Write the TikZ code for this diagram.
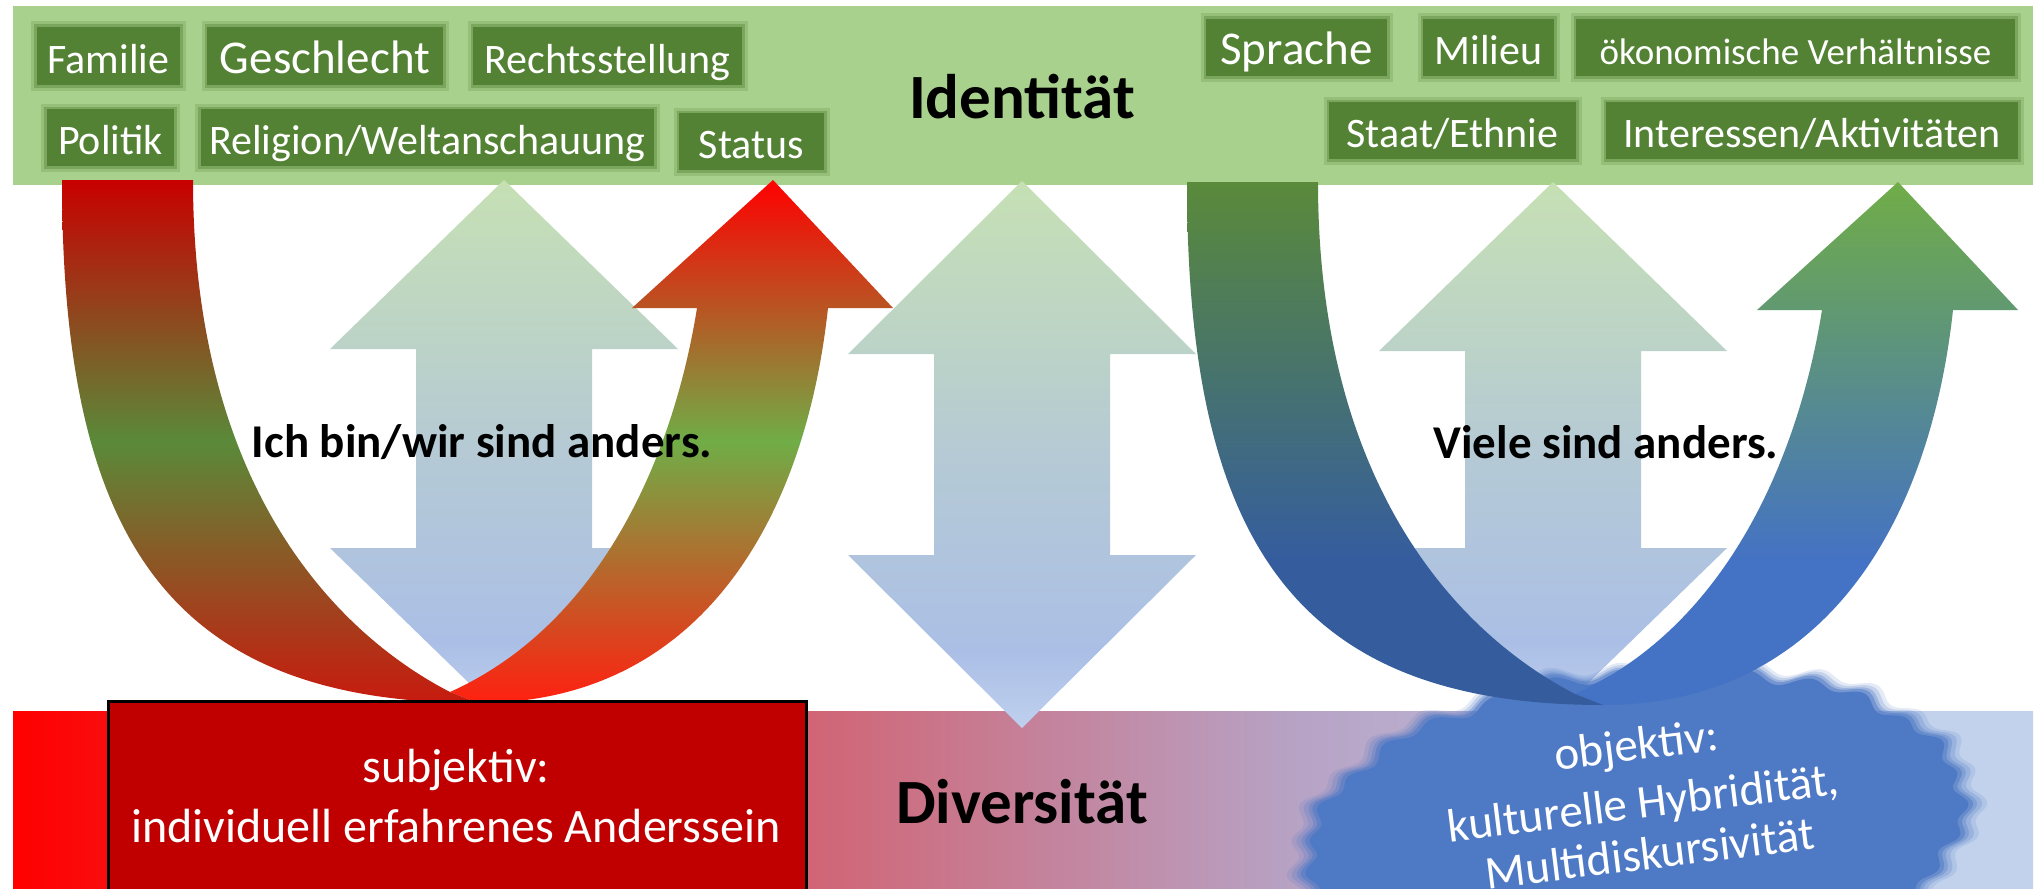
\documentclass[tikz,border=0pt]{standalone}
\usepackage{fontspec}
\setmainfont{Carlito}
\definecolor{bandgreen}{HTML}{A9D18E}
\definecolor{taggreen}{HTML}{548235}
\definecolor{boxred}{HTML}{C00000}
\definecolor{cloudblue}{HTML}{4E79C5}
% diversity band
\definecolor{dRed}{HTML}{FF0000}
\definecolor{dPink}{HTML}{D16474}
\definecolor{dLav}{HTML}{B7A2C4}
\definecolor{dBlue}{HTML}{C2D2EC}
% double arrows
\definecolor{aBot}{HTML}{BFD0EE}
\definecolor{aLow}{HTML}{ABBFE6}
\definecolor{aMid}{HTML}{B5CAD4}
\definecolor{aTop}{HTML}{C6E0B4}
% red/green U
\definecolor{rbBot}{HTML}{FF2010}
\definecolor{rbMid}{HTML}{70AD47}
\definecolor{rbTop}{HTML}{FF0000}
\definecolor{rdBot}{HTML}{C81A0E}
\definecolor{rdMid}{HTML}{5A8A39}
\definecolor{rdTop}{HTML}{C80000}
% green/blue U
\definecolor{bbBot}{HTML}{4472C4}
\definecolor{bbTop}{HTML}{70AD47}
\definecolor{bdBot}{HTML}{355D9E}
\definecolor{bdTop}{HTML}{5A8A3A}

\pgfdeclarehorizontalshading{divbandshade}{100bp}{color(0bp)=(dRed); color(25bp)=(dRed); color(44.6bp)=(dPink); color(56.6bp)=(dLav); color(71.7bp)=(dBlue); color(100bp)=(dBlue)}
\pgfdeclareverticalshading{dblarrowshade}{100bp}{color(0bp)=(aBot); color(25bp)=(aBot); color(32bp)=(aLow); color(50bp)=(aMid); color(75bp)=(aTop); color(100bp)=(aTop)}
\pgfdeclareverticalshading{redbright}{100bp}{color(0bp)=(rbBot); color(25bp)=(rbBot); color(50bp)=(rbMid); color(75bp)=(rbTop); color(100bp)=(rbTop)}
\pgfdeclareverticalshading{reddark}{100bp}{color(0bp)=(rdBot); color(25bp)=(rdBot); color(50bp)=(rdMid); color(75bp)=(rdTop); color(100bp)=(rdTop)}
\pgfdeclareverticalshading{bluebright}{100bp}{color(0bp)=(bbBot); color(25bp)=(bbBot); color(38.9bp)=(bbBot); color(75bp)=(bbTop); color(100bp)=(bbTop)}
\pgfdeclareverticalshading{bluedark}{100bp}{color(0bp)=(bdBot); color(25bp)=(bdBot); color(38.9bp)=(bdBot); color(75bp)=(bdTop); color(100bp)=(bdTop)}

\newcommand{\UArrowShape}[3]{%
\begin{scope}[shift={#1}]
\shade[shading=#3] (478,703) .. controls (700,703) and (805,520) .. (828,308) -- (893,308) -- (773,180) -- (632,308) -- (697,308) .. controls (676,440) and (610,620) .. (450,692) -- cycle;
\shade[shading=#2] (62,180) .. controls (62,540) and (170,703) .. (478,703) -- (450,692) .. controls (330,630) and (193,480) .. (193,180) -- cycle;
\end{scope}}

\tikzset{
  tag/.style={fill=taggreen, text=white, inner sep=0pt, text height=34bp, text depth=0pt,
    font={\fontsize{42bp}{48bp}\selectfont},
    preaction={draw=taggreen, draw opacity=.22, line width=11bp},
    preaction={draw=taggreen, draw opacity=.4, line width=5bp}},
  tagbig/.style={tag, font={\fontsize{47bp}{52bp}\selectfont}},
  tagsmall/.style={tag, font={\fontsize{37bp}{44bp}\selectfont}},
  headtext/.style={anchor=base, font={\bfseries\fontsize{63bp}{70bp}\selectfont}},
  midtext/.style={anchor=base, font={\bfseries\fontsize{47bp}{54bp}\selectfont}},
  boxtext/.style={anchor=base, text=white, font={\fontsize{48bp}{54bp}\selectfont}},
  cloudtext/.style={anchor=base, text=white, rotate=7, font={\fontsize{47bp}{54bp}\selectfont}},
}

\begin{document}
\begin{tikzpicture}[x=1bp, y=-1bp]
\useasboundingbox (0,0) rectangle (2037,889);
\fill[white] (0,0) rectangle (2037,889);
\begin{scope}
\clip (0,0) rectangle (2037,889);
% bands
\fill[bandgreen] (13,6) rectangle (2033,185);
\shade[shading=divbandshade] (13,711) rectangle (2033,889);
% double arrows
\shade[shading=dblarrowshade] (504,180) -- (678,349) -- (592,349) -- (592,548) -- (678,548) -- (504,717) -- (330,548) -- (416,548) -- (416,349) -- (330,349) -- cycle;
\shade[shading=dblarrowshade] (1022,181) -- (1196,354) -- (1110,354) -- (1110,555) -- (1196,555) -- (1022,728) -- (848,555) -- (934,555) -- (934,354) -- (848,354) -- cycle;
\shade[shading=dblarrowshade] (1553,182) -- (1727,351) -- (1641,351) -- (1641,548) -- (1727,548) -- (1553,717) -- (1379,548) -- (1465,548) -- (1465,351) -- (1379,351) -- cycle;
% cloud (soft edged)
\begin{scope}[shift={(1636,830)}, rotate=6]
\foreach \s/\o in {1.05/0.15, 1.035/0.22, 1.02/0.32, 1.008/0.5}{
  \fill[cloudblue, opacity=\o, scale=\s] plot[domain=0:360, samples=360, smooth] ({(329+5*sin(31*\x)+3*sin(13*\x))*cos(\x)}, {(158+5*sin(31*\x)+3*sin(13*\x))*sin(\x)}) -- cycle;
}
\fill[cloudblue] plot[domain=0:360, samples=360, smooth] ({(327+5*sin(31*\x)+3*sin(13*\x))*cos(\x)}, {(156+5*sin(31*\x)+3*sin(13*\x))*sin(\x)}) -- cycle;
\end{scope}
% U arrows
\UArrowShape{(0,0)}{reddark}{redbright}
\UArrowShape{(1125,2)}{bluedark}{bluebright}
% tags left
\node[tag, minimum width=143bp, minimum height=58bp] (familie) at (108.5,56) {Familie};
\node[tagbig, minimum width=236bp, minimum height=58bp] (geschlecht) at (325,56) {Geschlecht};
\node[tag, minimum width=269bp, minimum height=58bp] (recht) at (607.5,56) {Rechtsstellung};
\node[tag, minimum width=127bp, minimum height=57bp] (politik) at (110.5,137.5) {Politik};
\node[tag, minimum width=453bp, minimum height=57bp] (religion) at (427.5,137.5) {Religion/Weltanschauung};
\node[tag, minimum width=145bp, minimum height=57bp] (status) at (751.5,141.5) {Status};
% tags right
\node[tagbig, minimum width=181bp, minimum height=57bp] (sprache) at (1296.5,47.5) {Sprache};
\node[tag, minimum width=131bp, minimum height=57bp] (milieu) at (1488.5,47.5) {Milieu};
\node[tagsmall, minimum width=439bp, minimum height=57bp] (oekon) at (1795.5,47.5) {ökonomische Verhältnisse};
\node[tag, minimum width=247bp, minimum height=57bp] (staat) at (1452.5,130.5) {Staat/Ethnie};
\node[tag, minimum width=412bp, minimum height=57bp] (interessen) at (1812,130.5) {Interessen/Aktivitäten};
% red box
\node[draw=black, line width=2.5bp, fill=boxred, minimum width=698bp, minimum height=210bp, inner sep=0pt, anchor=north west] (subjbox) at (107,700) {};
\node[boxtext] (subj1) at (456,782) {subjektiv:};
\node[boxtext] (subj2) at (456,842) {individuell erfahrenes Anderssein};
% cloud text
\node[cloudtext] (obj1) at (1638,760) {objektiv:};
\node[cloudtext] (obj2) at (1645,818) {kulturelle Hybridität,};
\node[cloudtext] (obj3) at (1652,869) {Multidiskursivität};
% headings
\node[headtext] (identitaet) at (1022,118) {Identität};
\node[headtext] (diversitaet) at (1022,823) {Diversität};
\node[midtext] (ichbin) at (482,457) {Ich bin/wir sind anders.};
\node[midtext] (viele) at (1606,458) {Viele sind anders.};
\end{scope}
\end{tikzpicture}
\end{document}
